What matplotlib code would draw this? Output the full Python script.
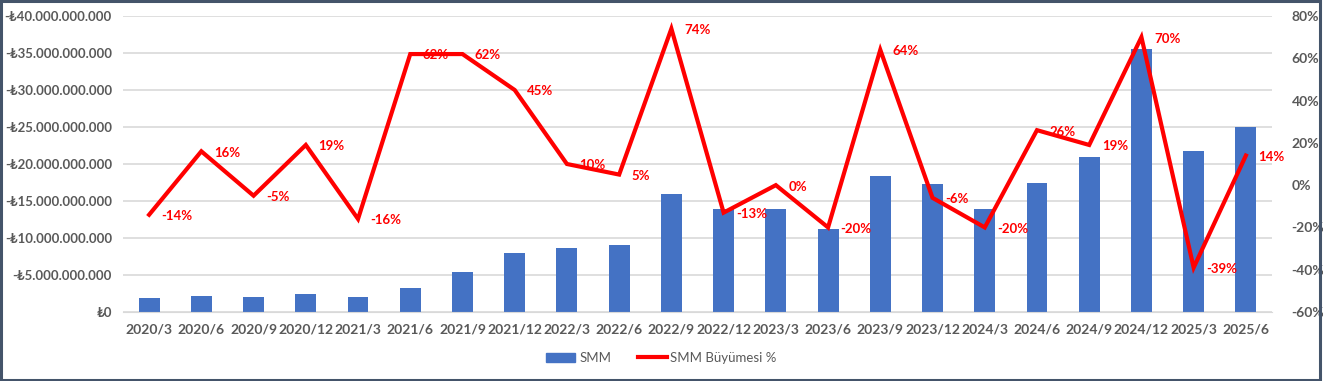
import matplotlib
matplotlib.use("Agg")
import matplotlib.pyplot as plt
from matplotlib.patches import Rectangle
from matplotlib.lines import Line2D

plt.rcParams['font.family'] = ['Lato', 'DejaVu Sans']

categories = ["2020/3", "2020/6", "2020/9", "2020/12", "2021/3", "2021/6", "2021/9",
              "2021/12", "2022/3", "2022/6", "2022/9", "2022/12", "2023/3", "2023/6",
              "2023/9", "2023/12", "2024/3", "2024/6", "2024/9", "2024/12", "2025/3", "2025/6"]
smm_billion = [1.9, 2.2, 2.0, 2.4, 2.0, 3.2, 5.4, 8.0, 8.7, 9.1, 15.9, 13.9, 13.9, 11.2,
               18.4, 17.3, 13.9, 17.5, 20.9, 35.5, 21.8, 25.0]
growth_pct = [-14, 16, -5, 19, -16, 62, 62, 45, 10, 5, 74, -13, 0, -20, 64, -6, -20, 26,
              19, 70, -39, 14]
left_ticks = [0, 5, 10, 15, 20, 25, 30, 35, 40]
left_tick_labels = ["₺0", "-₺5.000.000.000", "-₺10.000.000.000", "-₺15.000.000.000",
                    "-₺20.000.000.000", "-₺25.000.000.000", "-₺30.000.000.000",
                    "-₺35.000.000.000", "-₺40.000.000.000"]
right_ticks = [-60, -40, -20, 0, 20, 40, 60, 80]
right_tick_labels = ["-60%", "-40%", "-20%", "0%", "20%", "40%", "60%", "80%"]

W, H = 1323, 381
fig = plt.figure(figsize=(W / 100, H / 100), dpi=100)
fig.patch.set_facecolor("white")
fig.add_artist(Rectangle((0.001, 0.002), 0.997, 0.995, transform=fig.transFigure,
                         fill=False, edgecolor="#44546A", linewidth=2.2))

ax = fig.add_axes([123 / W, 1 - 312 / H, (1272 - 123) / W, (312 - 16) / H])
x = list(range(len(categories)))
gray = "#595959"
ax.bar(x, smm_billion, width=0.4, color="#4472C4", zorder=2, label="SMM")
ax.set_ylim(0, 40)
ax.set_xlim(-0.5, len(categories) - 0.5)
ax.set_yticks(left_ticks)
ax.set_yticklabels(left_tick_labels)
ax.set_xticks(x)
ax.set_xticklabels(categories)
ax.grid(axis="y", color="#D9D9D9", linewidth=1.2, zorder=0)
ax.set_axisbelow(True)
for s in ax.spines.values():
    s.set_visible(False)
ax.spines["bottom"].set_visible(True)
ax.spines["bottom"].set_color("#D9D9D9")
ax.tick_params(axis="y", length=0, colors=gray, labelsize=9.5, pad=8)
ax.tick_params(axis="x", length=0, colors=gray, labelsize=10, pad=8)
for t in ax.get_yticklabels() + ax.get_xticklabels():
    t.set_fontweight("bold")
    t.set_color(gray)

ax2 = ax.twinx()
ax2.plot(x, growth_pct, color="#FF0000", linewidth=3, zorder=3, solid_joinstyle="miter")
ax2.set_ylim(-60, 80)
ax2.set_yticks(right_ticks)
ax2.set_yticklabels(right_tick_labels)
for s in ax2.spines.values():
    s.set_visible(False)
ax2.tick_params(axis="y", length=0, colors=gray, labelsize=10, pad=14)
for t in ax2.get_yticklabels():
    t.set_fontweight("bold")
    t.set_color(gray)

for xi, g in zip(x, growth_pct):
    ax2.annotate(f"{g}%", (xi, g), xytext=(9, -1), textcoords="offset points",
                 ha="left", va="center", color="#FF0000", fontsize=9.5,
                 fontweight="bold", zorder=4)

handles = [Rectangle((0, 0), 1, 1, color="#4472C4"),
           Line2D([0], [0], color="#FF0000", linewidth=3)]
fig.legend(handles, ["SMM", "SMM Büyümesi %"], loc="center",
           bbox_to_anchor=(0.5, 1 - 358 / H), ncol=2, frameon=False,
           fontsize=9.5, labelcolor=gray, handlelength=2.2, columnspacing=2.0,
           handletextpad=0.3)

fig.savefig("out.png", dpi=100, facecolor="white")
